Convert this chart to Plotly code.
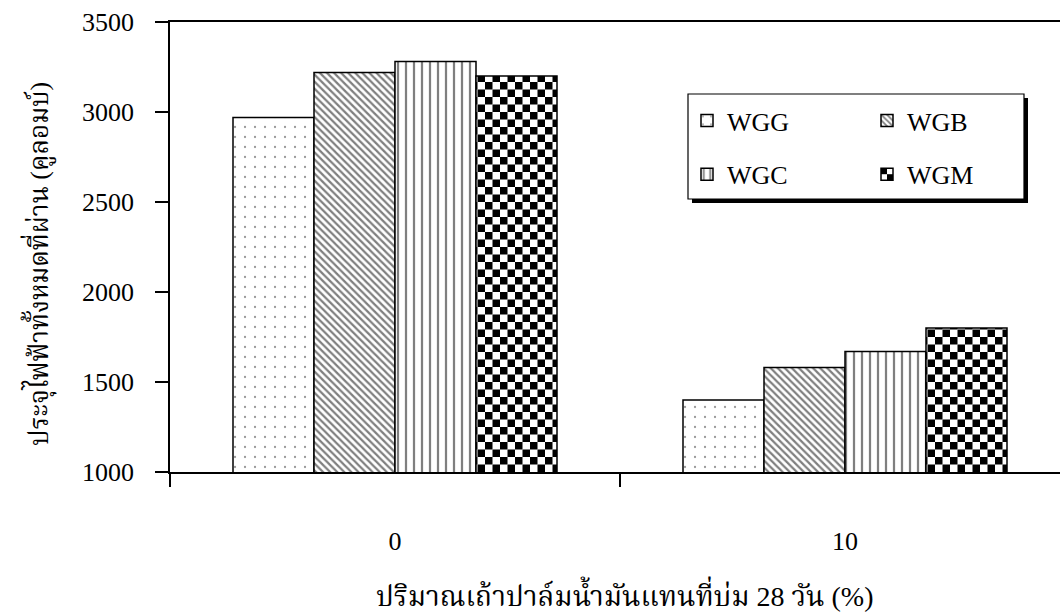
import plotly.graph_objects as go

# Replacement level of palm oil fuel ash (%) and charge passed (coulombs)
categories = ["0", "10"]
series_names = ["WGG", "WGB", "WGC", "WGM"]
wgg = [2970, 1400]
wgb = [3220, 1580]
wgc = [3280, 1670]
wgm = [3200, 1800]
y_ticks = [1000, 1500, 2000, 2500, 3000, 3500]

x_title = "ปริมาณเถ้าปาล์มน้ำมันแทนที่บ่ม 28 วัน (%)"
y_title = "ประจุไฟฟ้าทั้งหมดที่ผ่าน (คูลอมบ์)"

FONT = "Liberation Serif, Times New Roman, Noto Serif Thai, Noto Sans Thai, serif"
W, H = 1060, 613
L, R, T, B = 170, 0, 22, 141
PW, PH = W - L - R, H - T - B


def px_x(p):
    return (p - L) / PW


def px_y(p):
    return (H - B - p) / PH


positions = list(range(len(categories)))

patterns = {
    "WGG": dict(shape=".", size=10, solidity=0.04, fgcolor="#333333", bgcolor="white"),
    "WGB": dict(shape="\\", size=5, solidity=0.45, fgcolor="black", bgcolor="white"),
    "WGC": dict(shape="|", size=8, solidity=0.28, fgcolor="black", bgcolor="white"),
    "WGM": dict(shape="+", size=15, solidity=0.5, fgcolor="black", bgcolor="white"),
}
values = {"WGG": wgg, "WGB": wgb, "WGC": wgc, "WGM": wgm}
legend_of = {"WGG": "legend", "WGC": "legend", "WGB": "legend2", "WGM": "legend2"}

fig = go.Figure()
for name in series_names:
    fig.add_trace(go.Bar(
        x=positions,
        y=values[name],
        name=name,
        uid=name.lower(),
        legend=legend_of[name],
        legendgroup=name,
        marker=dict(color="white", pattern=patterns[name],
                    line=dict(color="black", width=1.5)),
    ))

legend_font = dict(family=FONT, size=26, color="black")
legend_common = dict(
    font=legend_font, bgcolor="rgba(0,0,0,0)", borderwidth=0,
    orientation="v", tracegroupgap=17, xanchor="left", yanchor="top",
    traceorder="grouped",
)

# Legend frame with drop shadow
box = (688, 94, 1024, 199)
shadow = 4
shapes = [
    dict(type="rect", xref="paper", yref="paper",
         x0=px_x(box[0] + shadow), x1=px_x(box[2] + shadow),
         y0=px_y(box[1] + shadow), y1=px_y(box[3] + shadow),
         fillcolor="black", line=dict(width=0), layer="above"),
    dict(type="rect", xref="paper", yref="paper",
         x0=px_x(box[0]), x1=px_x(box[2]),
         y0=px_y(box[1]), y1=px_y(box[3]),
         fillcolor="white", line=dict(color="black", width=1.2), layer="above"),
]

fig.update_layout(
    width=W, height=H,
    margin=dict(l=L, r=R, t=T, b=B, pad=0),
    paper_bgcolor="white", plot_bgcolor="white",
    barmode="group", bargap=0.28, bargroupgap=0,
    font=dict(family=FONT, size=26, color="black"),
    showlegend=True,
    legend=dict(x=px_x(687), y=px_y(97), **legend_common),
    legend2=dict(x=px_x(867), y=px_y(97), **legend_common),
    shapes=shapes,
    xaxis=dict(
        range=[-0.5, 1.5 - 10 / 450],
        tickmode="array", tickvals=positions, ticktext=categories,
        ticks="", showgrid=False, zeroline=False,
        showline=True, linecolor="black", linewidth=1.5, mirror=True,
        ticklabelstandoff=45,
        tickfont=dict(family=FONT, size=26, color="black"),
        minor=dict(tickmode="array", tickvals=[-0.5, 0.5], ticks="outside",
                   ticklen=13, tickwidth=1.5, tickcolor="black", showgrid=False),
    ),
    yaxis=dict(
        range=[1000, 3500], tickmode="array", tickvals=y_ticks,
        ticks="outside", ticklen=13, tickwidth=1.5, tickcolor="black",
        showgrid=False, zeroline=False,
        showline=True, linecolor="black", linewidth=1.5,
        ticklabelstandoff=16,
        tickfont=dict(family=FONT, size=26, color="black"),
    ),
    annotations=[
        dict(text=x_title, xref="paper", yref="paper",
             x=px_x(625), y=px_y(594), showarrow=False,
             xanchor="center", yanchor="middle",
             font=dict(family=FONT, size=28, color="black")),
        dict(text=y_title, xref="paper", yref="paper",
             x=px_x(38), y=px_y(264), showarrow=False, textangle=-90,
             xanchor="center", yanchor="middle",
             font=dict(family=FONT, size=26, color="black")),
    ],
)

# Checkerboard fill for the WGM pattern tiles
checker_js = """
var gd = document.getElementById('{plot_id}');
function applyChecker() {
  var pats = document.querySelectorAll('pattern[id*="wgm"]');
  pats.forEach(function(p) {
    var s = 15, h = s / 2;
    p.setAttribute('width', s);
    p.setAttribute('height', s);
    p.setAttribute('patternUnits', 'userSpaceOnUse');
    p.innerHTML = '<rect width="' + s + '" height="' + s + '" fill="white"></rect>' +
      '<rect x="0" y="0" width="' + h + '" height="' + h + '" fill="black"></rect>' +
      '<rect x="' + h + '" y="' + h + '" width="' + h + '" height="' + h + '" fill="black"></rect>';
  });
}
applyChecker();
gd.on('plotly_afterplot', applyChecker);
"""

fig.write_html("out.html", post_script=checker_js)
